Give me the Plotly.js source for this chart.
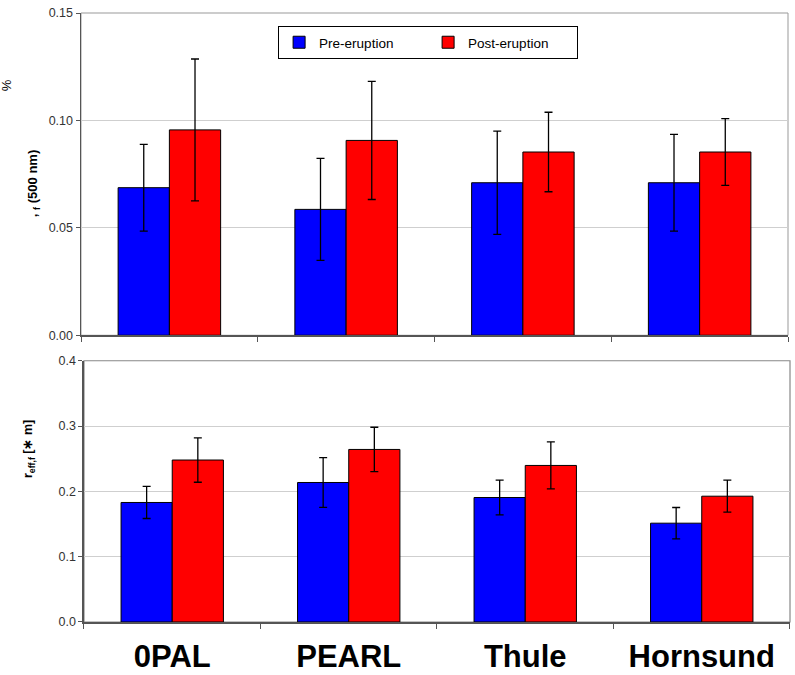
<!DOCTYPE html>
<html>
<head>
<meta charset="utf-8">
<script src="https://cdn.plot.ly/plotly-3.0.1.min.js"></script>
<style>html,body{margin:0;padding:0;background:#fff;}#chart{width:795px;height:675px;}</style>
</head>
<body>
<div id="chart"></div>
<script>
// ---- data ----
const sites = ['0PAL', 'PEARL', 'Thule', 'Hornsund'];
const seriesNames = ['Pre-eruption', 'Post-eruption'];

const tauPre      = [0.0687, 0.0586, 0.0710, 0.0710];
const tauPreErr   = [0.0202, 0.0237, 0.0240, 0.0225];
const tauPost     = [0.0956, 0.0907, 0.0853, 0.0853];
const tauPostErr  = [0.0330, 0.0275, 0.0185, 0.0155];

const reffPre     = [0.183, 0.2136, 0.1906, 0.1513];
const reffPreErr  = [0.0245, 0.0380, 0.0265, 0.0240];
const reffPost    = [0.248, 0.2642, 0.2397, 0.1926];
const reffPostErr = [0.0340, 0.0340, 0.0360, 0.0245];

const tauTicks  = [0.00, 0.05, 0.10, 0.15];
const reffTicks = [0.0, 0.1, 0.2, 0.3, 0.4];

// ---- styling ----
const FONT = 'Liberation Sans, Arial, sans-serif';
const BLUE = '#0000ff', RED = '#ff0000';
const errStyle = {type: 'data', visible: true, color: '#000', thickness: 1.3, width: 4};

function barTrace(y, err, name, color, xa, ya, show) {
  return {
    type: 'bar', x: sites, y: y, name: name, xaxis: xa, yaxis: ya,
    legendgroup: name, showlegend: show,
    marker: {color: color, line: {color: '#000', width: 1}},
    error_y: Object.assign({array: err}, errStyle),
    hoverinfo: 'skip'
  };
}

const data = [
  barTrace(tauPre,  tauPreErr,  seriesNames[0], BLUE, 'x',  'y',  true),
  barTrace(tauPost, tauPostErr, seriesNames[1], RED,  'x',  'y',  true),
  barTrace(reffPre,  reffPreErr,  seriesNames[0], BLUE, 'x2', 'y2', false),
  barTrace(reffPost, reffPostErr, seriesNames[1], RED,  'x2', 'y2', false)
];

const axisLine = {showline: true, linecolor: '#555', linewidth: 1.5};
const layout = {
  width: 795, height: 675,
  margin: {l: 81, r: 5, t: 13, b: 53},
  paper_bgcolor: '#fff', plot_bgcolor: '#fff',
  font: {family: FONT, color: '#000'},
  barmode: 'group', bargap: 0.42, bargroupgap: 0,
  xaxis: Object.assign({
    domain: [0, 0.9972], anchor: 'y', type: 'category',
    showticklabels: false, tickson: 'boundaries', ticks: 'outside',
    ticklen: 5, tickcolor: '#555', showgrid: false, zeroline: false,
    range: [-0.5, 3.5]
  }, axisLine),
  yaxis: Object.assign({
    domain: [0.4708, 1], anchor: 'x', range: [0, 0.15],
    tickmode: 'array', tickvals: tauTicks, ticktext: tauTicks.map(v => v.toFixed(2)),
    ticks: 'outside', ticklen: 4, tickcolor: '#555',
    tickfont: {family: FONT, size: 12.5, color: '#333'},
    showgrid: true, gridcolor: '#cfcfcf', gridwidth: 1, zeroline: false
  }, axisLine),
  xaxis2: Object.assign({
    domain: [0.0042, 1], anchor: 'y2', type: 'category',
    tickson: 'boundaries', ticks: 'outside', ticklen: 5, tickcolor: '#555',
    tickfont: {family: FONT, size: 31, color: '#000', weight: 'bold'},
    ticklabelstandoff: 6,
    showgrid: false, zeroline: false, range: [-0.5, 3.5]
  }, axisLine),
  yaxis2: Object.assign({
    domain: [0, 0.429], anchor: 'x2', range: [0, 0.4],
    tickmode: 'array', tickvals: reffTicks, ticktext: reffTicks.map(v => v.toFixed(1)),
    ticks: 'outside', ticklen: 4, tickcolor: '#555',
    tickfont: {family: FONT, size: 12.5, color: '#333'},
    showgrid: true, gridcolor: '#cfcfcf', gridwidth: 1, zeroline: false
  }, axisLine),
  showlegend: true,
  legend: {
    orientation: 'h', x: 0.278, xanchor: 'left', y: 0.9787, yanchor: 'top',
    bgcolor: '#fff', bordercolor: '#000', borderwidth: 1,
    font: {family: FONT, size: 13.5, color: '#000'},
    entrywidth: 104, entrywidthmode: 'pixels', traceorder: 'normal'
  },
  shapes: [
    {type: 'rect', xref: 'x domain', yref: 'y domain', x0: 0, x1: 1, y0: 0, y1: 1,
     line: {color: '#999', width: 1}, layer: 'below'},
    {type: 'rect', xref: 'x2 domain', yref: 'y2 domain', x0: 0, x1: 1, y0: 0, y1: 1,
     line: {color: '#888', width: 1.2}, layer: 'below'}
  ],
  annotations: [
    {text: '<b>, <sub>f</sub> (500 nm)</b>', xref: 'paper', yref: 'paper',
     x: -0.0677, y: 0.719, xanchor: 'center', yanchor: 'middle', textangle: -90,
     showarrow: false, font: {family: FONT, size: 13, color: '#000'}},
    {text: '%', xref: 'paper', yref: 'paper',
     x: -0.104, y: 0.882, xanchor: 'center', yanchor: 'middle', textangle: -90,
     showarrow: false, font: {family: FONT, size: 13, color: '#000'}},
    {text: '<b>r<sub>eff,f</sub> [∗ m]</b>', xref: 'paper', yref: 'paper',
     x: -0.0733, y: 0.284, xanchor: 'center', yanchor: 'middle', textangle: -90,
     showarrow: false, font: {family: FONT, size: 12.5, color: '#000'}}
  ]
};

Plotly.newPlot('chart', data, layout, {displayModeBar: false, staticPlot: true});
</script>
</body>
</html>
